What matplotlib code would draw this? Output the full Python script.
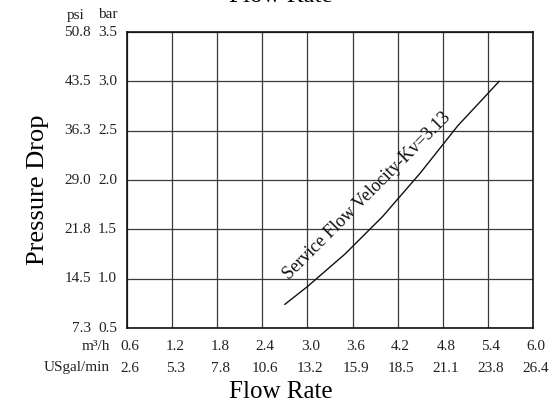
import matplotlib
matplotlib.use("Agg")
import matplotlib.pyplot as plt

plt.rcParams['font.family'] = ['Liberation Serif', 'DejaVu Serif']

# Data
flow_m3h = [0.6, 1.2, 1.8, 2.4, 3.0, 3.6, 4.2, 4.8, 5.4, 6.0]
flow_gpm = ['2.6', '5.3', '7.8', '10.6', '13.2', '15.9', '18.5', '21.1', '23.8', '26.4']
bar_ticks = [0.5, 1.0, 1.5, 2.0, 2.5, 3.0, 3.5]
psi_labels = ['7.3', '14.5', '21.8', '29.0', '36.3', '43.5', '50.8']

curve_q = [2.70, 3.00, 3.50, 4.00, 4.50, 5.00, 5.55]
curve_dp = [0.74, 0.92, 1.25, 1.63, 2.07, 2.55, 3.00]
curve_label = 'Service Flow Velocity-Kv=3.13'

W, H = 554, 407
PX = 0.72  # points per pixel at 100 dpi
TC = '#222222'
FS = 11

fig = plt.figure(figsize=(W / 100, H / 100), dpi=100)
ax = fig.add_axes([127 / W, 1 - 328 / H, (533 - 127) / W, (328 - 32) / H])

ax.set_xlim(flow_m3h[0], flow_m3h[-1])
ax.set_ylim(bar_ticks[0], bar_ticks[-1])
ax.set_xticks(flow_m3h)
ax.set_yticks(bar_ticks)
ax.set_xticklabels([])
ax.set_yticklabels([])
ax.grid(True, color='#3a3a3a', linewidth=0.9)
for s in ax.spines.values():
    s.set_linewidth(1.2)
    s.set_color('#111111')
ax.tick_params(length=0)

# bar column and psi column
for v, lab in zip(bar_ticks, psi_labels):
    ax.annotate(f'{v:.1f}', xy=(0, v), xycoords=('axes fraction', 'data'),
                xytext=(-10 * PX, 0), textcoords='offset points',
                ha='right', va='center', fontsize=FS, color=TC)
    ax.annotate(lab, xy=(0, v), xycoords=('axes fraction', 'data'),
                xytext=(-36 * PX, 0), textcoords='offset points',
                ha='right', va='center', fontsize=FS, color=TC)
# m3/h row and USgal/min row
for q, lab in zip(flow_m3h, flow_gpm):
    ax.annotate(f'{q:.1f}', xy=(q, 0), xycoords=('data', 'axes fraction'),
                xytext=(3 * PX, -18 * PX), textcoords='offset points',
                ha='center', va='center', fontsize=FS, color=TC)
    ax.annotate(lab, xy=(q, 0), xycoords=('data', 'axes fraction'),
                xytext=(3 * PX, -40 * PX), textcoords='offset points',
                ha='center', va='center', fontsize=FS, color=TC)

# headers
fig.text(110 / W, 1 - 346 / H, 'm³/h', ha='right', va='center', fontsize=FS, color=TC)
fig.text(110 / W, 1 - 368 / H, 'USgal/min', ha='right', va='center', fontsize=FS, color=TC)
fig.text(76 / W, 1 - 15 / H, 'psi', ha='center', va='center', fontsize=FS, color=TC)
fig.text(108 / W, 1 - 15 / H, 'bar', ha='center', va='center', fontsize=FS, color=TC)

# axis titles
fig.text(281 / W, 1 - 392 / H, 'Flow Rate', ha='center', va='center', fontsize=18)
fig.text(38 / W, 1 - 190 / H, 'Pressure Drop', ha='center', va='center', rotation=90, fontsize=19)
fig.text(281 / W, 1 - 2 / H, 'Flow Rate', ha='center', va='baseline', fontsize=18)

# curve
ax.plot(curve_q, curve_dp, color='#111111', linewidth=1.0)
ax.text(3.79, 1.84, curve_label, rotation=45, rotation_mode='anchor',
        ha='center', va='center', fontsize=13, color='#111111')

fig.savefig('out.png', dpi=100)
